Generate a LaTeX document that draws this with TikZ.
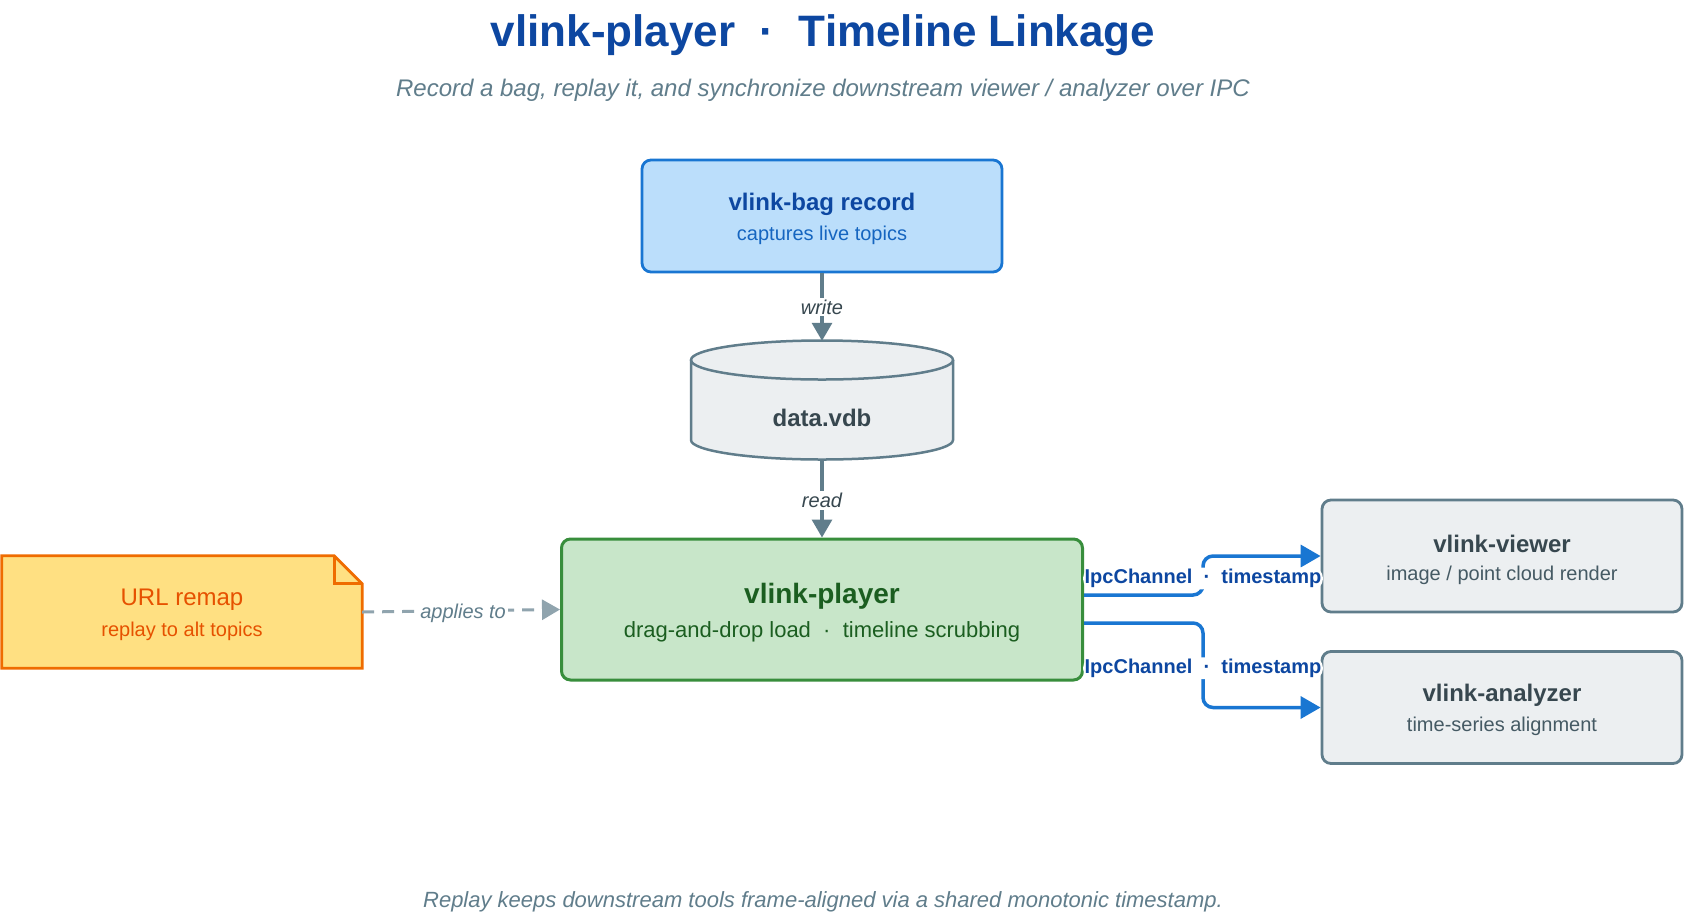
\documentclass[tikz,border=0pt]{standalone}
\usepackage{fontspec}
\setmainfont{Liberation Sans}
\usetikzlibrary{arrows.meta,calc}
\definecolor{cTitle}{HTML}{0D47A1}
\definecolor{cSub}{HTML}{607D8B}
\definecolor{cBlueFill}{HTML}{BBDEFB}
\definecolor{cBlueLine}{HTML}{1976D2}
\definecolor{cBlueText}{HTML}{1565C0}
\definecolor{cGrayFill}{HTML}{ECEFF1}
\definecolor{cGrayLine}{HTML}{607D8B}
\definecolor{cDark}{HTML}{37474F}
\definecolor{cDarkSub}{HTML}{455A64}
\definecolor{cGreenFill}{HTML}{C8E6C9}
\definecolor{cGreenLine}{HTML}{388E3C}
\definecolor{cGreenText}{HTML}{1B5E20}
\definecolor{cNoteFill}{HTML}{FFE082}
\definecolor{cNoteLine}{HTML}{EF6C00}
\definecolor{cNoteText}{HTML}{E65100}
\definecolor{cDash}{HTML}{90A4AE}
\newcommand\setfs[1]{\fontsize{#1}{#1}\selectfont}
\begin{document}
\begin{tikzpicture}[x=1pt,y=-1pt,
  txt/.style={inner sep=0pt, anchor=center, yshift=-3pt},
  boxshape/.style={rounded corners=9pt, line width=2.8pt, inner sep=0pt},
  garrow/.style={draw=cGrayLine, line width=3.2pt, -{Triangle[length=18pt,width=20pt]}},
  barrow/.style={draw=cBlueLine, line width=3.5pt, rounded corners=10pt, -{Triangle[length=20pt,width=22pt]}},
  darrow/.style={draw=cDash, line width=3pt, dash pattern=on 12pt off 8pt, -{Triangle[length=18pt,width=20pt]}},
  elabel/.style={fill=white, inner sep=2pt, font=\setfs{20}\itshape, text=cDark},
  blabel/.style={fill=white, inner sep=1.5pt, font=\setfs{20}\bfseries, text=cTitle, yshift=-3pt}
]
\useasboundingbox (0,0) rectangle (1686,922);
\fill[white] (0,0) rectangle (1686,922);

% titles
\node[txt, font=\setfs{44}\bfseries, text=cTitle] (title) at (823,32) {vlink-player~~·~~Timeline Linkage};
\node[txt, font=\setfs{24}\itshape, text=cSub] (subtitle) at (823,87) {Record a bag, replay it, and synchronize downstream viewer / analyzer over IPC};
\node[txt, font=\setfs{22}\itshape, text=cSub] (footer) at (823,899) {Replay keeps downstream tools frame-aligned via a shared monotonic timestamp.};

% vlink-bag record
\node[boxshape, draw=cBlueLine, fill=cBlueFill, minimum width=360pt, minimum height=112pt] (bag) at (822,216) {};
\node[txt, font=\setfs{24}\bfseries, text=cTitle] (bagT) at ($(bag.center)+(0,-15)$) {vlink-bag record};
\node[txt, font=\setfs{20}, text=cBlueText] (bagS) at ($(bag.center)+(0,16)$) {captures live topics};

% data.vdb cylinder
\node[inner sep=0pt, minimum width=262pt, minimum height=118pt] (db) at (822,400) {};
\fill[cGrayFill] (691,360) -- (691,440) arc[start angle=180, end angle=0, x radius=131, y radius=19.5] -- (953,360) -- cycle;
\fill[cGrayFill] (822,360) ellipse [x radius=131, y radius=19.5];
\draw[cGrayLine, line width=2.5pt] (691,360) -- (691,440) arc[start angle=180, end angle=0, x radius=131, y radius=19.5] -- (953,360);
\draw[cGrayLine, line width=2.5pt] (822,360) ellipse [x radius=131, y radius=19.5];
\node[txt, font=\setfs{24}\bfseries, text=cDark] (dbT) at (822,415) {data.vdb};

% vlink-player
\node[boxshape, draw=cGreenLine, line width=3pt, fill=cGreenFill, minimum width=521pt, minimum height=141pt] (player) at (822,609.5) {};
\node[txt, font=\setfs{28}\bfseries, text=cGreenText] (playerT) at ($(player.center)+(0,-16)$) {vlink-player};
\node[txt, font=\setfs{22}, text=cGreenText] (playerS) at ($(player.center)+(0,19)$) {drag-and-drop load~~·~~timeline scrubbing};

% URL remap note
\node[inner sep=0pt, minimum width=360pt, minimum height=112pt] (note) at (182,612) {};
\filldraw[fill=cNoteFill, draw=cNoteLine, line width=2.8pt, line join=miter]
  (note.north west) -- ($(note.north east)+(-28,0)$) -- ($(note.north east)+(0,28)$) -- (note.south east) -- (note.south west) -- cycle;
\draw[cNoteLine, line width=2.8pt, line join=miter] ($(note.north east)+(-28,0)$) -- ($(note.north east)+(-28,28)$) -- ($(note.north east)+(0,28)$);
\node[txt, font=\setfs{24}, text=cNoteText] (noteT) at ($(note.center)+(0,-15)$) {URL remap};
\node[txt, font=\setfs{20}, text=cNoteText] (noteS) at ($(note.center)+(0,16)$) {replay to alt topics};

% viewer / analyzer
\node[boxshape, draw=cGrayLine, fill=cGrayFill, minimum width=360pt, minimum height=112pt] (viewer) at (1502,556) {};
\node[txt, font=\setfs{24}\bfseries, text=cDark] (viewerT) at ($(viewer.center)+(0,-15)$) {vlink-viewer};
\node[txt, font=\setfs{20}, text=cDarkSub] (viewerS) at ($(viewer.center)+(0,16)$) {image / point cloud render};

\node[boxshape, draw=cGrayLine, fill=cGrayFill, minimum width=360pt, minimum height=112pt] (analyzer) at (1502,707.5) {};
\node[txt, font=\setfs{24}\bfseries, text=cDark] (analyzerT) at ($(analyzer.center)+(0,-15)$) {vlink-analyzer};
\node[txt, font=\setfs{20}, text=cDarkSub] (analyzerS) at ($(analyzer.center)+(0,16)$) {time-series alignment};

% connectors
\draw[garrow] (bag.south) -- node[elabel] (wlab) {write} (db.north);
\draw[garrow] (db.south) -- node[elabel, yshift=-2pt] (rlab) {read} (player.north);
\draw[darrow] (note.east) -- node[elabel, text=cSub, pos=0.51, yshift=-3pt] (alab) {applies to} (player.west);

\draw[barrow] ([yshift=14.5pt]player.east) -- ++(119,0) -- node[blabel] (ipc1) {IpcChannel~~·~~timestamp} ++(0,-39) -- (viewer.west);
\draw[barrow] ([yshift=-13.5pt]player.east) -- ++(119,0) -- node[blabel] (ipc2) {IpcChannel~~·~~timestamp} ++(0,84.5) -- (analyzer.west);
\end{tikzpicture}
\end{document}
